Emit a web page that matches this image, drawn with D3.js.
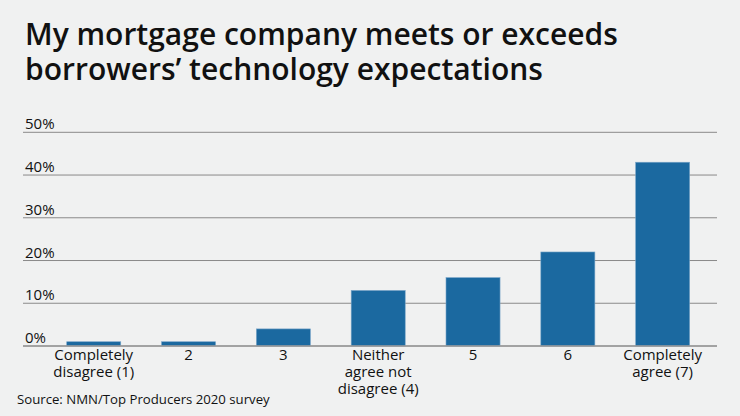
<!DOCTYPE html>
<html>
<head>
<meta charset="utf-8">
<script src="https://cdn.jsdelivr.net/npm/d3@7"></script>
<style>
  body { margin: 0; background: #f0f1f1; }
  svg { display: block; font-family: "Open Sans", Lato, sans-serif; }
</style>
</head>
<body>
<script>
// Données à afficher
var categories = [
  ["Completely", "disagree (1)"],
  ["2"],
  ["3"],
  ["Neither", "agree not", "disagree (4)"],
  ["5"],
  ["6"],
  ["Completely", "agree (7)"]
];
var valeurs = [1, 1, 4, 13, 16, 22, 43];
var ticks = [0, 10, 20, 30, 40, 50];
var titre = ["My mortgage company meets or exceeds", "borrowers\u2019 technology expectations"];
var source = "Source: NMN/Top Producers 2020 survey";

var width = 740, height = 416;

var svg = d3.select("body")
  .append("svg")
  .attr("width", width)
  .attr("height", height);

svg.append("rect").attr("width", width).attr("height", height).attr("fill", "#f0f1f1");

// titre
svg.append("g")
  .selectAll("text")
  .data(titre)
  .join("text")
  .attr("x", 25)
  .attr("y", (d, i) => 45 + i * 35)
  .attr("font-size", 30)
  .attr("font-weight", 600)
  .attr("fill", "#111")
  .text(d => d);

// échelles
var x = d3.scaleBand()
  .domain(d3.range(categories.length))
  .range([19.3, 737.1])
  .paddingInner(0.43)
  .paddingOuter(0.5);

var y = d3.scaleLinear()
  .domain([0, 50])
  .range([346, 132.3]);

// grille
var grille = svg.append("g");
grille.selectAll("line")
  .data(ticks)
  .join("line")
  .attr("x1", 23)
  .attr("x2", 717)
  .attr("y1", d => y(d))
  .attr("y2", d => y(d))
  .attr("stroke", "#8a8a8a")
  .attr("stroke-width", 1);

grille.selectAll("text")
  .data(ticks)
  .join("text")
  .attr("x", 25)
  .attr("y", d => y(d) - 3)
  .attr("font-size", 15)
  .attr("fill", "#111")
  .text(d => d + "%");

// barres
svg.append("g")
  .selectAll("rect")
  .data(valeurs)
  .join("rect")
  .attr("x", (d, i) => x(i))
  .attr("width", x.bandwidth())
  .attr("y", d => y(d))
  .attr("height", d => y(0) - y(d))
  .attr("fill", "#1b69a0")
  .attr("stroke", "#7aa6c9")
  .attr("stroke-width", 0.6);

// ligne de base
svg.append("line")
  .attr("x1", 23).attr("x2", 717)
  .attr("y1", y(0)).attr("y2", y(0))
  .attr("stroke", "#9a9a9a")
  .attr("stroke-width", 1.5);

// étiquettes des catégories
var etiq = svg.append("g");
categories.forEach(function (lignes, i) {
  var t = etiq.append("text")
    .attr("text-anchor", "middle")
    .attr("font-size", 15)
    .attr("fill", "#111");
  lignes.forEach(function (l, j) {
    t.append("tspan")
      .attr("x", x(i) + x.bandwidth() / 2)
      .attr("y", 360 + j * 17)
      .text(l);
  });
});

// source
svg.append("text")
  .attr("x", 17)
  .attr("y", 404)
  .attr("font-size", 13.2)
  .attr("fill", "#111")
  .text(source);
</script>
</body>
</html>
